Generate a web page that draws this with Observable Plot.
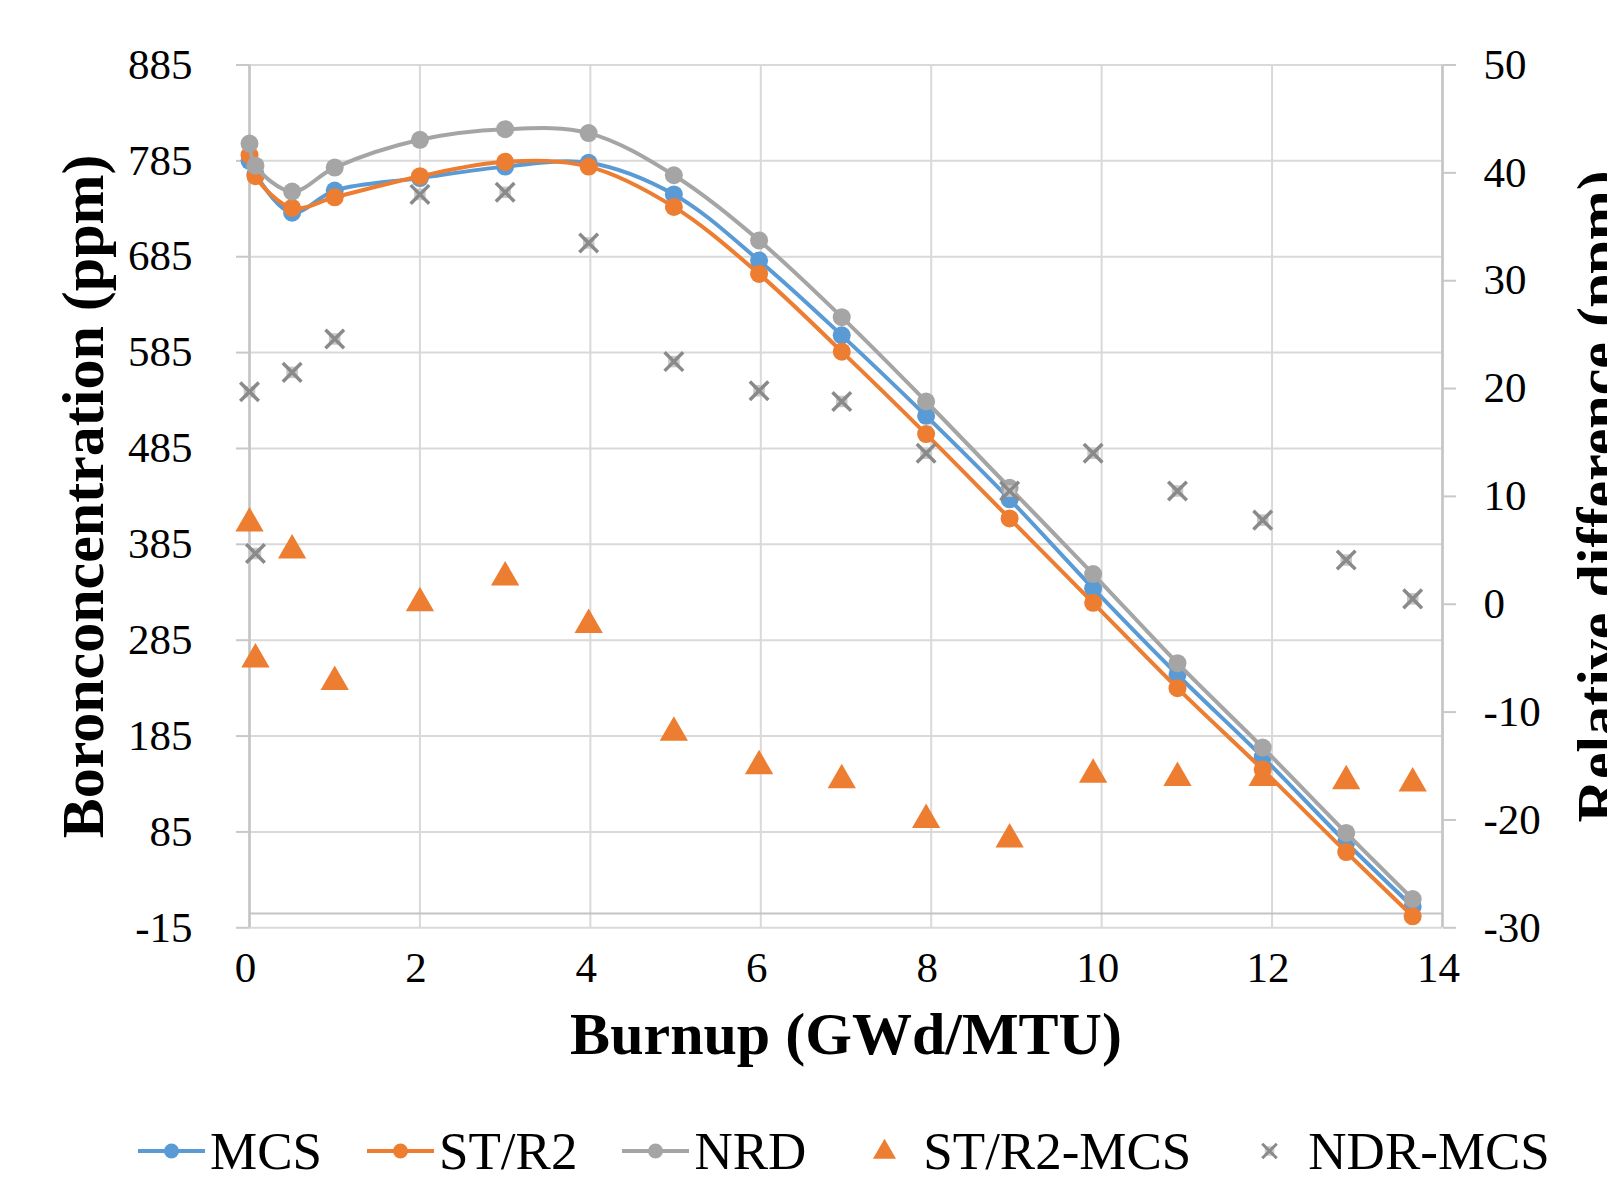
<!DOCTYPE html>
<html><head><meta charset="utf-8">
<script src="https://cdn.jsdelivr.net/npm/d3@7"></script>
<script src="https://cdn.jsdelivr.net/npm/@observablehq/plot@0.6"></script>
<style>
html,body{margin:0;padding:0;background:#fff;overflow:hidden;}
#legend{display:flex;align-items:center;height:62px;padding-left:138px;font-family:"Liberation Serif","Times New Roman",serif;font-size:53px;color:#000;white-space:nowrap;}
.item{display:flex;align-items:center;margin-right:45px;}
.item svg{margin-right:5px;display:block;}
</style></head><body>
<div id="chart"></div><div id="legend"></div>
<script>
// Burnup steps (GWd/MTU)
const burnup = [0, 0.07, 0.5, 1, 2, 3, 3.98, 4.98, 5.98, 6.95, 7.94, 8.92, 9.9, 10.89, 11.89, 12.87, 13.65];
// Boron concentration (ppm), left axis
const mcs  = [785, 771, 731, 754, 767, 779, 783, 750, 681, 603, 519, 432, 339, 249, 163, 74, 7];
const str2 = [791, 769, 736, 747, 769, 784, 779, 737, 667, 586, 500, 412, 324, 235, 150, 64, -3];
const nrd  = [803, 780, 753, 778, 807, 818, 814, 770, 702, 622, 534, 444, 354, 261, 173, 84, 15];
// Relative difference (ppm), right axis
const diffStR2 = [7.5, -5.1, 5.0, -7.2, 0.1, 2.5, -1.9, -11.9, -15.0, -16.3, -20.0, -21.8, -15.8, -16.1, -16.1, -16.4, -16.6];
const diffNdr  = [19.7, 4.7, 21.5, 24.6, 38.0, 38.2, 33.5, 22.5, 19.8, 18.8, 14.0, 10.5, 14.0, 10.5, 7.8, 4.1, 0.5];
// Ticks
const leftTicks = [-15, 85, 185, 285, 385, 485, 585, 685, 785, 885];
const rightTicks = [-30, -20, -10, 0, 10, 20, 30, 40, 50];
const xTicks = [0, 2, 4, 6, 8, 10, 12, 14];
const seriesNames = ["MCS", "ST/R2", "NRD", "ST/R2-MCS", "NDR-MCS"];
const xLabel = "Burnup (GWd/MTU)";
const yLabel = "Boronconcentration (ppm)";
const y2Label = "Relative difference (ppm)";

const BLUE = "#5B9BD5", ORANGE = "#ED7D31", GRAY = "#A5A5A5", XGRAY = "#8a8a8a";
const FONT = "Liberation Serif, Times New Roman, serif";

const yMin = -15, yMax = 885, rMin = -30, rMax = 50;
const toPpm = r => yMin + (r - rMin) * (yMax - yMin) / (rMax - rMin);
const toRel = p => rMin + (p - yMin) * (rMax - rMin) / (yMax - yMin);

const rows = ys => burnup.map((x, i) => ({x, y: ys[i]}));
const rowsR = ys => burnup.map((x, i) => ({x, y: toPpm(ys[i])}));

const H = 1120;
const chart = Plot.plot({
  width: 1607, height: H,
  marginTop: 64.5, marginBottom: H - 927.3, marginLeft: 249, marginRight: 165,
  x: {domain: [0, 14]},
  y: {domain: [yMin, yMax]},
  style: {fontFamily: FONT, color: "#000", background: "#fff"},
  marks: [
    Plot.gridY(leftTicks, {stroke: "#d9d9d9", strokeOpacity: 1, strokeWidth: 2}),
    Plot.gridX(xTicks, {stroke: "#d9d9d9", strokeOpacity: 1, strokeWidth: 2}),
    Plot.ruleY([0], {stroke: "#c4c4c4", strokeWidth: 2}),
    Plot.ruleX([0, 14], {stroke: "#c4c4c4", strokeWidth: 2.5}),
    Plot.axisY(leftTicks, {anchor: "left", tickSize: 13, tickPadding: 44, stroke: "#c8c8c8", fill: "#000", strokeWidth: 2, fontSize: 43, tickFormat: d => String(d), label: null}),
    Plot.axisY(rightTicks.map(toPpm), {anchor: "right", tickSize: 13, tickPadding: 28, stroke: "#c8c8c8", fill: "#000", strokeWidth: 2, fontSize: 43, tickFormat: d => String(Math.round(toRel(d))), label: null}),
    Plot.axisX(xTicks, {anchor: "bottom", tickSize: 0, tickPadding: 24, fill: "#000", fontSize: 43, dx: -4, tickFormat: d => String(d), label: null}),
    // MCS
    Plot.line(rows(mcs), {x: "x", y: "y", stroke: BLUE, strokeWidth: 4, curve: "catmull-rom"}),
    Plot.dot(rows(mcs), {x: "x", y: "y", r: 9, fill: BLUE}),
    // ST/R2
    Plot.line(rows(str2), {x: "x", y: "y", stroke: ORANGE, strokeWidth: 4, curve: "catmull-rom"}),
    Plot.dot(rows(str2), {x: "x", y: "y", r: 9, fill: ORANGE}),
    // NRD
    Plot.line(rows(nrd), {x: "x", y: "y", stroke: GRAY, strokeWidth: 4, curve: "catmull-rom"}),
    Plot.dot(rows(nrd), {x: "x", y: "y", r: 9, fill: GRAY}),
    // Differences (secondary axis)
    Plot.dot(rowsR(diffStR2), {x: "x", y: "y", symbol: "triangle", r: 10.5, fill: ORANGE}),
    Plot.dot(rowsR(diffNdr), {x: "x", y: "y", symbol: "square", r: 6.5, fill: "#c8c8c8"}),
    Plot.dot(rowsR(diffNdr), {x: "x", y: "y", symbol: "times", r: 8.5, stroke: XGRAY, strokeWidth: 3.5}),
    // Axis titles
    Plot.text([yLabel], {text: d => d, frameAnchor: "left", dx: -166, rotate: -90, fontSize: 60, fontWeight: "bold", fontFamily: FONT, fill: "#000", textAnchor: "middle", lineAnchor: "middle"}),
    Plot.text([y2Label], {text: d => d, frameAnchor: "right", dx: 156, rotate: -90, fontSize: 60, fontWeight: "bold", fontFamily: FONT, fill: "#000", textAnchor: "middle", lineAnchor: "middle"}),
    Plot.text([xLabel], {text: d => d, frameAnchor: "bottom", dy: 107, fontSize: 60, fontWeight: "bold", fontFamily: FONT, fill: "#000", textAnchor: "middle", lineAnchor: "middle"})
  ]
});
document.getElementById("chart").appendChild(chart);

// Legend
const legendSpec = [
  {name: seriesNames[0], kind: "line", color: BLUE},
  {name: seriesNames[1], kind: "line", color: ORANGE},
  {name: seriesNames[2], kind: "line", color: GRAY},
  {name: seriesNames[3], kind: "triangle", color: ORANGE},
  {name: seriesNames[4], kind: "times", color: XGRAY}
];
const legend = d3.select("#legend");
for (const s of legendSpec) {
  const item = legend.append("div").attr("class", "item");
  const svg = item.append("svg").attr("width", 67).attr("height", 30);
  if (s.kind === "line") {
    svg.append("line").attr("x1", 0).attr("x2", 67).attr("y1", 15).attr("y2", 15).attr("stroke", s.color).attr("stroke-width", 4);
    svg.append("circle").attr("cx", 33.5).attr("cy", 15).attr("r", 7.5).attr("fill", s.color);
  } else if (s.kind === "triangle") {
    svg.append("path").attr("transform", "translate(33.5,16)").attr("d", d3.symbol(d3.symbolTriangle, 230)()).attr("fill", s.color);
  } else {
    svg.append("path").attr("transform", "translate(33.5,15)").attr("d", d3.symbol(d3.symbolSquare, 90)()).attr("fill", "#c8c8c8");
    svg.append("path").attr("transform", "translate(33.5,15)").attr("d", d3.symbol(d3.symbolTimes, 140)()).attr("stroke", s.color).attr("stroke-width", 3).attr("fill", "none");
  }
  item.append("span").text(s.name);
}
</script>
</body></html>
